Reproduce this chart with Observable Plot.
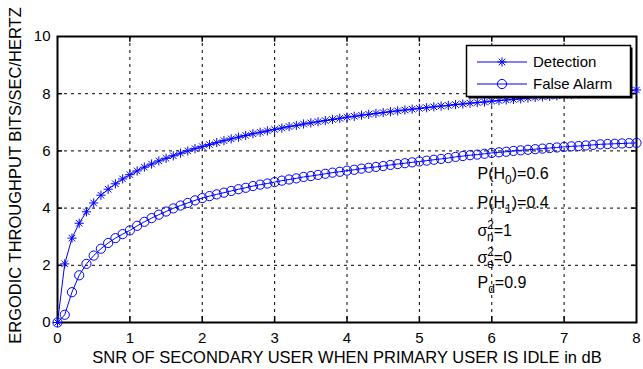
<!DOCTYPE html>
<html>
<head>
<meta charset="utf-8">
<script src="https://cdn.jsdelivr.net/npm/d3@7"></script>
<script src="https://cdn.jsdelivr.net/npm/@observablehq/plot@0.6"></script>
<style>
  html, body { margin: 0; padding: 0; background: #fff; }
  #chart { width: 643px; height: 369px; }
</style>
</head>
<body>
<div id="chart"></div>
<script>
// ---- data ----
const snr = [0,0.1,0.2,0.3,0.4,0.5,0.6,0.7,0.8,0.9,1.0,1.1,1.2,1.3,1.4,1.5,1.6,1.7,1.8,1.9,2.0,
  2.1,2.2,2.3,2.4,2.5,2.6,2.7,2.8,2.9,3.0,3.1,3.2,3.3,3.4,3.5,3.6,3.7,3.8,3.9,4.0,
  4.1,4.2,4.3,4.4,4.5,4.6,4.7,4.8,4.9,5.0,5.1,5.2,5.3,5.4,5.5,5.6,5.7,5.8,5.9,6.0,
  6.1,6.2,6.3,6.4,6.5,6.6,6.7,6.8,6.9,7.0,7.1,7.2,7.3,7.4,7.5,7.6,7.7,7.8,7.9,8.0];
const detection = [0,2.05,2.95,3.47,3.87,4.18,4.45,4.66,4.85,5.02,5.17,
  5.30,5.43,5.54,5.65,5.74,5.83,5.92,6.00,6.08,6.15,
  6.22,6.29,6.36,6.42,6.48,6.54,6.60,6.65,6.70,6.75,
  6.80,6.85,6.89,6.94,6.98,7.02,7.06,7.10,7.14,7.18,
  7.21,7.25,7.28,7.31,7.34,7.37,7.40,7.43,7.46,7.49,
  7.51,7.54,7.57,7.59,7.62,7.64,7.67,7.69,7.71,7.74,
  7.76,7.78,7.80,7.82,7.85,7.87,7.89,7.91,7.93,7.95,
  7.97,7.99,8.00,8.02,8.04,8.06,8.08,8.10,8.11,8.13];
const falseAlarm = [0,0.27,1.06,1.65,2.05,2.34,2.58,2.78,2.95,3.09,3.22,
  3.38,3.52,3.65,3.77,3.88,3.99,4.09,4.18,4.27,4.35,
  4.42,4.48,4.54,4.60,4.66,4.71,4.77,4.82,4.86,4.91,
  4.96,5.00,5.04,5.09,5.12,5.16,5.20,5.24,5.27,5.31,
  5.34,5.38,5.41,5.44,5.47,5.51,5.54,5.57,5.60,5.63,
  5.66,5.69,5.72,5.75,5.79,5.82,5.85,5.87,5.90,5.93,
  5.95,5.97,6.00,6.02,6.04,6.06,6.08,6.10,6.12,6.14,
  6.16,6.17,6.19,6.21,6.23,6.24,6.25,6.26,6.27,6.28];
const xTicks = [0,1,2,3,4,5,6,7,8];
const yTicks = [0,2,4,6,8,10];
const xGrid = [1,2,3,4,5,6,7];
const yGrid = [2,4,6,8];
const seriesNames = ["Detection", "False Alarm"];
const xLabel = "SNR OF SECONDARY USER WHEN PRIMARY USER IS IDLE in dB";
const yLabel = "ERGODIC THROUGHPUT BITS/SEC/HERTZ";
// annotation text: parts [text, kind]
const annotations = [
  {x: 5.81, y: 5.0,  parts: [["P(H",""],["0","sub"],[")=0.6","up"]]},
  {x: 5.81, y: 3.97, parts: [["P(H",""],["1","sub"],[")=0.4","up"]]},
  {x: 5.81, y: 3.0,  parts: [["σ",""],["2","sup"],["n","subx"],["=1","back"]]},
  {x: 5.81, y: 2.06, parts: [["σ",""],["2","sup"],["e","subx"],["=0","back"]]},
  {x: 5.81, y: 1.19, parts: [["P",""],["d","sub"],["=0.9","up"]]}
];

const rows = snr.map((s, i) => ({snr: s, det: detection[i], fa: falseAlarm[i]}));

const blue = "#0000ff";
// 8-spoke asterisk like MATLAB '*'
const star8 = {
  draw(ctx, size) {
    const r = Math.sqrt(size / Math.PI);
    const d = r * Math.SQRT1_2;
    ctx.moveTo(-r, 0); ctx.lineTo(r, 0);
    ctx.moveTo(0, -r); ctx.lineTo(0, r);
    ctx.moveTo(-d, -d); ctx.lineTo(d, d);
    ctx.moveTo(-d, d); ctx.lineTo(d, -d);
  }
};

const font = "'Liberation Sans', Arial, sans-serif";

const svg = Plot.plot({
  width: 643,
  height: 369,
  marginLeft: 57,
  marginRight: 7,
  marginTop: 36,
  marginBottom: 47,
  style: {fontFamily: font, fontSize: "15px", background: "#fff", color: "#000", overflow: "visible"},
  x: {domain: [0, 8], ticks: xTicks, tickSize: 0, tickPadding: 10, tickFormat: d => String(d), label: null},
  y: {domain: [0, 10], ticks: yTicks, tickSize: 0, tickPadding: 7, tickFormat: d => String(d), label: null},
  marks: [
    Plot.ruleX(xGrid, {stroke: "#000", strokeWidth: 1, strokeDasharray: "3,4"}),
    Plot.ruleY(yGrid, {stroke: "#000", strokeWidth: 1, strokeDasharray: "3,4"}),
    // inward tick marks
    Plot.ruleX(xGrid, {y1: 0, y2: 0.2, stroke: "#000", strokeWidth: 1.5}),
    Plot.ruleX(xGrid, {y1: 10, y2: 9.8, stroke: "#000", strokeWidth: 1.5}),
    Plot.ruleY(yGrid, {x1: 0, x2: 0.07, stroke: "#000", strokeWidth: 1.5}),
    Plot.ruleY(yGrid, {x1: 8, x2: 7.93, stroke: "#000", strokeWidth: 1.5}),
    Plot.frame({stroke: "#000", strokeWidth: 2}),
    Plot.line(rows, {x: "snr", y: "det", stroke: blue, strokeWidth: 1}),
    Plot.dot(rows, {x: "snr", y: "det", symbol: star8, r: 4.6, stroke: blue, fill: "none", strokeWidth: 1}),
    Plot.line(rows, {x: "snr", y: "fa", stroke: blue, strokeWidth: 1}),
    Plot.dot(rows, {x: "snr", y: "fa", r: 4.6, stroke: blue, fill: "none", strokeWidth: 1}),
    Plot.text([xLabel], {frameAnchor: "bottom", lineAnchor: "middle", textAnchor: "middle", dy: 35.5, fontSize: 16.5, fill: "#000"}),
    Plot.text([yLabel], {frameAnchor: "left", lineAnchor: "middle", textAnchor: "middle", rotate: -90, dx: -42, dy: -4, fontSize: 16.5, fill: "#000"})
  ]
});

document.getElementById("chart").appendChild(svg);

const xS = svg.scale("x"), yS = svg.scale("y");
const root = d3.select(svg);

// annotations with sub/superscripts
const ag = root.append("g").attr("font-family", font).attr("font-size", 16).attr("fill", "#000").attr("text-anchor", "start");
annotations.forEach(a => {
  const t = ag.append("text").attr("x", xS.apply(a.x)).attr("y", yS.apply(a.y));
  a.parts.forEach(([s, kind]) => {
    const ts = t.append("tspan").text(s);
    if (kind === "sub") { ts.attr("dy", 5).attr("font-size", 12); }
    else if (kind === "up") { ts.attr("dy", -5); }
    else if (kind === "sup") { ts.attr("dy", -7).attr("font-size", 12); }
    else if (kind === "subx") { ts.attr("dx", -7).attr("dy", 12).attr("font-size", 12); }
    else if (kind === "back") { ts.attr("dy", -5); }
  });
});

// legend
const lg = root.append("g").attr("font-family", font).attr("font-size", 15).attr("text-anchor", "start");
const lx = 466.5, ly = 45.5, lw = 164, lh = 51;
lg.append("rect").attr("x", lx + 2).attr("y", ly + 2).attr("width", lw).attr("height", lh).attr("fill", "#000");
lg.append("rect").attr("x", lx).attr("y", ly).attr("width", lw).attr("height", lh).attr("fill", "#fff").attr("stroke", "#000").attr("stroke-width", 1.5);
const entryY = [62, 84];
seriesNames.forEach((name, i) => {
  const y = entryY[i];
  lg.append("line").attr("x1", 477).attr("x2", 527).attr("y1", y).attr("y2", y).attr("stroke", blue).attr("stroke-width", 1);
  const sym = i === 0 ? star8 : d3.symbolCircle;
  lg.append("path").attr("transform", `translate(502,${y})`)
    .attr("d", d3.symbol(sym, 4.6 * 4.6 * Math.PI)())
    .attr("fill", "none").attr("stroke", blue).attr("stroke-width", 1);
  lg.append("text").attr("x", 533).attr("y", y).attr("dy", "0.35em").attr("fill", "#000").text(name);
});
</script>
</body>
</html>
